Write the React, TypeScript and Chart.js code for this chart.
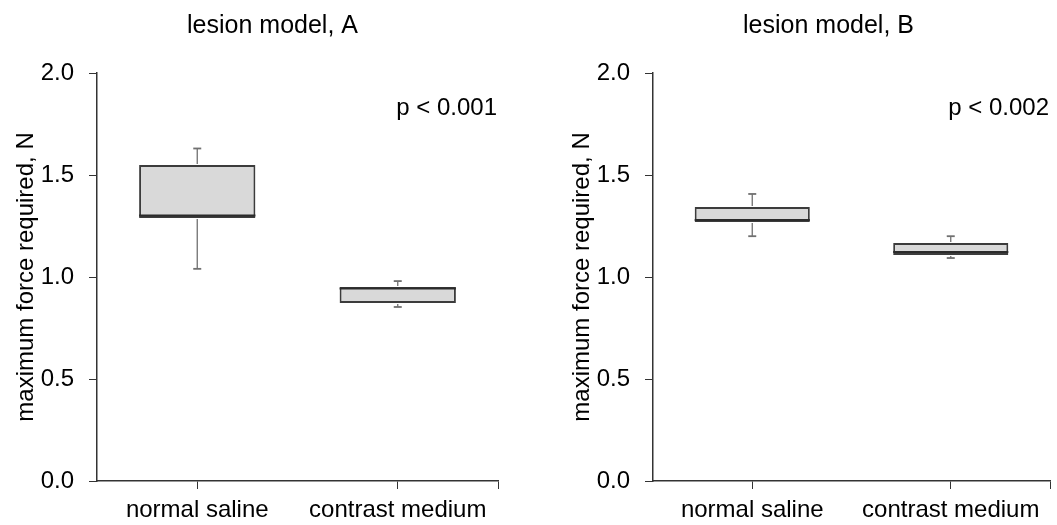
import React, { useEffect, useRef } from 'react';
import { Chart, registerables } from 'chart.js';

Chart.register(...registerables);

// ---------- data ----------
const categories = ['normal saline', 'contrast medium'];
const yTickValues = [0, 0.5, 1.0, 1.5, 2.0];
const xTickValues = [1, 2, 2.5];

const titleA = 'lesion model, A';
const titleB = 'lesion model, B';
const pValueA = 'p < 0.001';
const pValueB = 'p < 0.002';
const yAxisTitle = 'maximum force required, N';

// panel A (min, Q1, median, Q3, max)
const aMin = [1.04, 0.853];
const aQ1 = [1.289, 0.873];
const aMedian = [1.302, 0.944];
const aQ3 = [1.549, 0.951];
const aMax = [1.63, 0.98];

// panel B
const bMin = [1.2, 1.093];
const bQ1 = [1.27, 1.108];
const bMedian = [1.279, 1.123];
const bQ3 = [1.343, 1.167];
const bMax = [1.407, 1.2];

const FONT = '"Liberation Sans", Arial, Helvetica, sans-serif';

const boxPlugin = {
  id: 'boxWhiskers',
  afterDatasetsDraw(chart: any, _args: any, opts: any) {
    const { ctx } = chart;
    const x = chart.scales.x;
    const y = chart.scales.y;
    const meta = chart.getDatasetMeta(0);
    const line = (x1: number, y1: number, x2: number, y2: number) => {
      ctx.beginPath();
      ctx.moveTo(x1, y1);
      ctx.lineTo(x2, y2);
      ctx.stroke();
    };
    ctx.save();
    (opts.min as number[]).forEach((mn: number, i: number) => {
      const bar = meta.data[i];
      const half = bar.getProps(['width'], true).width / 2;
      const cx = x.getPixelForValue(i + 1);
      const yMin = y.getPixelForValue(mn);
      const yMax = y.getPixelForValue(opts.max[i]);
      const yQ1 = y.getPixelForValue(opts.q1[i]);
      const yQ3 = y.getPixelForValue(opts.q3[i]);
      const yMed = y.getPixelForValue(opts.median[i]);
      ctx.strokeStyle = '#707070';
      ctx.lineWidth = 1.3;
      line(cx, yQ3 - 1, cx, yMax);
      line(cx, yQ1 + 1, cx, yMin);
      ctx.lineWidth = 1.8;
      line(cx - 4, yMax, cx + 4, yMax);
      line(cx - 4, yMin, cx + 4, yMin);
      ctx.strokeStyle = '#2b2b2b';
      ctx.lineWidth = 2;
      line(cx - half, yMed, cx + half, yMed);
    });
    ctx.restore();
  },
};

const textPlugin = {
  id: 'panelText',
  afterDraw(chart: any, _args: any, opts: any) {
    const { ctx, chartArea } = chart;
    ctx.save();
    ctx.fillStyle = '#000';
    ctx.textBaseline = 'alphabetic';
    ctx.font = `25px ${FONT}`;
    ctx.textAlign = 'center';
    ctx.fillText(opts.title, chartArea.left + opts.titleDx, opts.titleBaseline);
    ctx.font = `24px ${FONT}`;
    ctx.textAlign = 'right';
    ctx.fillText(opts.p, chartArea.right + opts.pDx, opts.pBaseline);
    ctx.restore();
  },
};

interface PanelProps {
  title: string;
  p: string;
  min: number[];
  q1: number[];
  median: number[];
  q3: number[];
  max: number[];
  width: number;
}

function BoxPanel(props: PanelProps) {
  const ref = useRef<HTMLCanvasElement | null>(null);
  useEffect(() => {
    if (!ref.current) return;
    const chart = new Chart(ref.current, {
      type: 'bar',
      data: {
        datasets: [
          {
            data: categories.map((_, i) => ({ x: i + 1, y: [props.q1[i], props.q3[i]] })) as any,
            backgroundColor: '#d9d9d9',
            borderColor: '#3c3c3c',
            borderWidth: 2,
            borderSkipped: false,
            // ruler's minimum interval is the 2 -> 2.5 tick gap (half a category)
            barPercentage: 1.16,
            categoryPercentage: 1,
          },
        ],
      },
      options: {
        animation: false,
        responsive: false,
        events: [],
        layout: { padding: { top: 73, left: 0, right: props.width - 498, bottom: 0 } },
        plugins: {
          legend: { display: false },
          tooltip: { enabled: false },
          title: { display: false },
          boxWhiskers: { min: props.min, q1: props.q1, median: props.median, q3: props.q3, max: props.max },
          panelText: { title: props.title, p: props.p, titleDx: 175.5, titleBaseline: 33, pDx: -1, pBaseline: 115 },
        } as any,
        scales: {
          x: {
            type: 'linear',
            min: 0.5,
            max: 2.5,
            offset: false,
            afterBuildTicks: (s: any) => {
              s.ticks = xTickValues.map((v) => ({ value: v }));
            },
            afterFit: (s: any) => {
              s.height = 44;
            },
            ticks: {
              autoSkip: false,
              maxRotation: 0,
              padding: 7,
              color: '#000',
              font: { family: FONT, size: 24 },
              callback: (v: any) => (Number.isInteger(v) ? categories[v - 1] : ''),
            },
            grid: { display: true, drawOnChartArea: false, drawTicks: true, tickLength: 8, color: '#333', offset: false },
            border: { display: true, color: '#333', width: 1.5 },
          },
          y: {
            type: 'linear',
            min: 0,
            max: 2,
            afterBuildTicks: (s: any) => {
              s.ticks = yTickValues.map((v) => ({ value: v }));
            },
            afterFit: (s: any) => {
              s.width = 97;
            },
            ticks: {
              padding: 15,
              color: '#000',
              font: { family: FONT, size: 24 },
              callback: (v: any) => Number(v).toFixed(1),
            },
            grid: { display: true, drawOnChartArea: false, drawTicks: true, tickLength: 8, color: '#333' },
            border: { display: true, color: '#333', width: 1.5 },
            title: {
              display: true,
              text: yAxisTitle,
              color: '#000',
              font: { family: FONT, size: 24 },
              padding: { top: 12, bottom: 0 },
            },
          },
        },
      },
      plugins: [boxPlugin, textPlugin],
    });
    return () => chart.destroy();
  }, []);
  return <canvas ref={ref} width={props.width} height={525} style={{ display: 'block' }} />;
}

export default function App() {
  return (
    <div style={{ position: 'absolute', left: 0, top: 0, width: 1057, height: 525, background: '#fff', overflow: 'hidden' }}>
      <div style={{ position: 'absolute', left: 0, top: 0 }}>
        <BoxPanel title={titleA} p={pValueA} min={aMin} q1={aQ1} median={aMedian} q3={aQ3} max={aMax} width={556} />
      </div>
      <div style={{ position: 'absolute', left: 556, top: 0 }}>
        <BoxPanel title={titleB} p={pValueB} min={bMin} q1={bQ1} median={bMedian} q3={bQ3} max={bMax} width={501} />
      </div>
    </div>
  );
}
